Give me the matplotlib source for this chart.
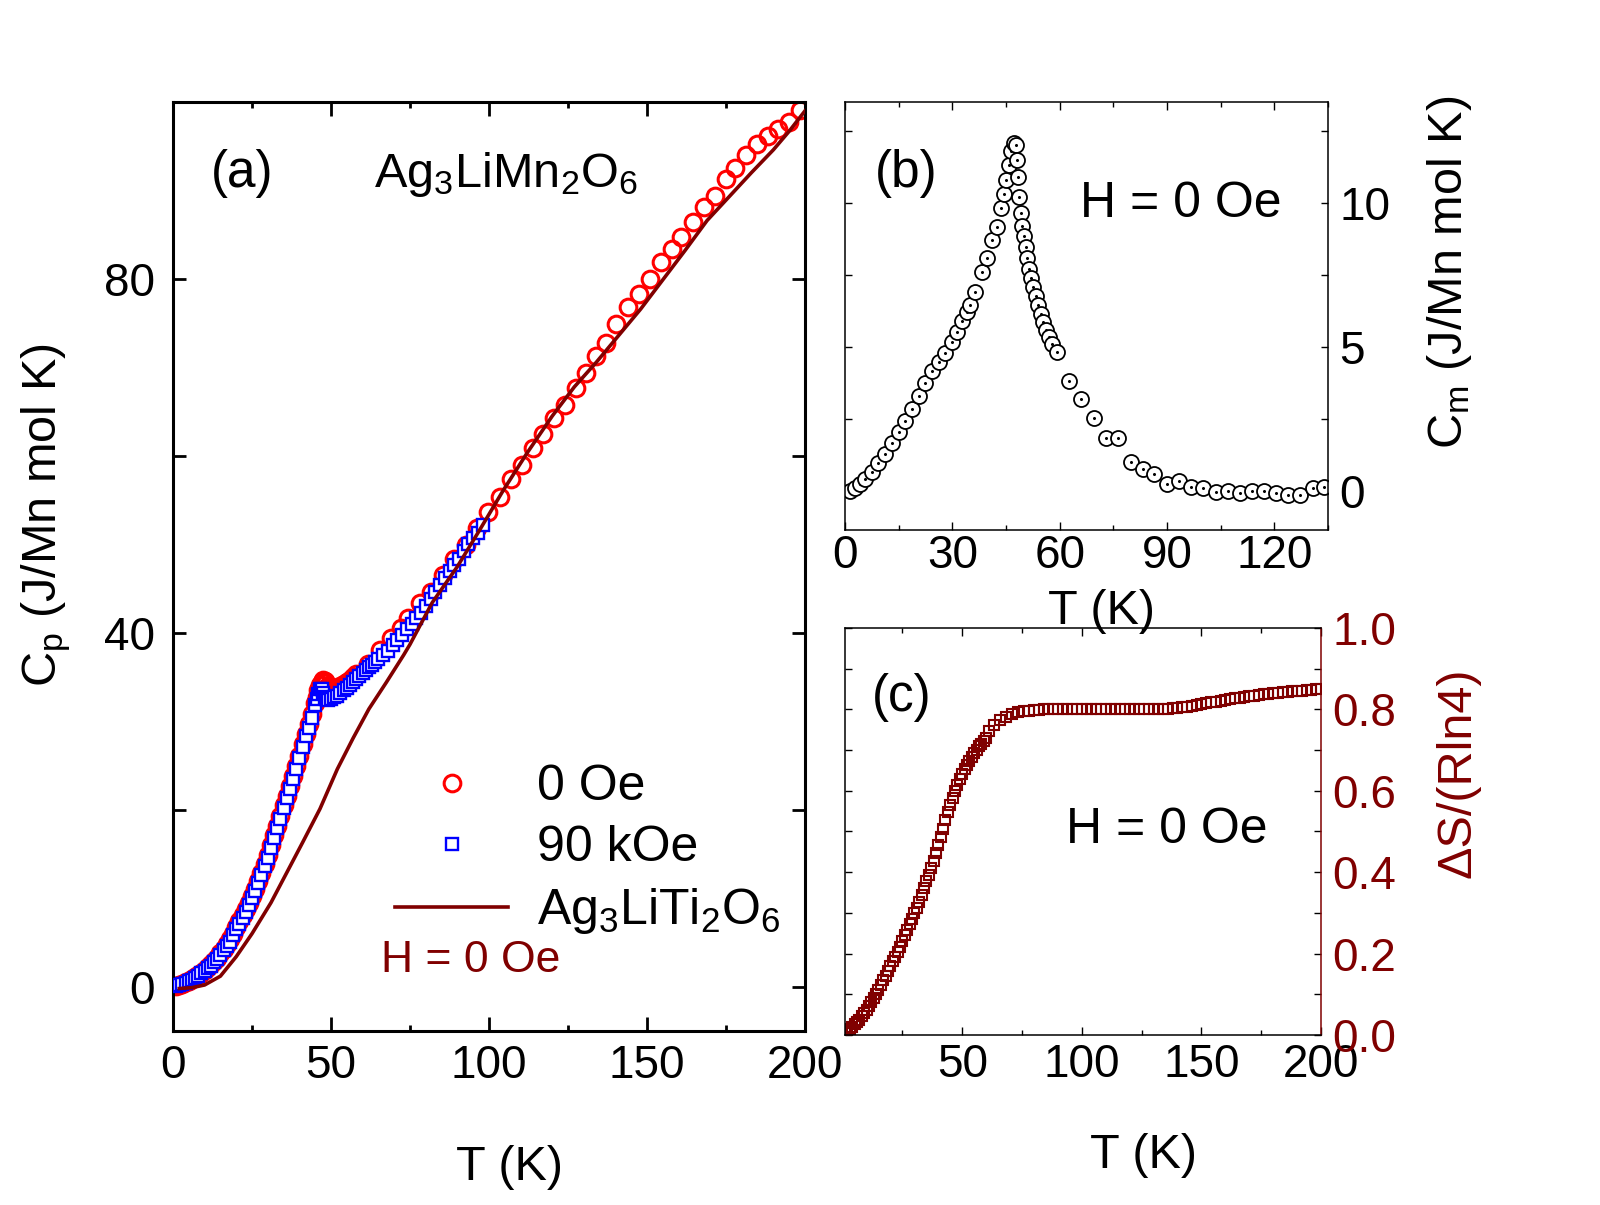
"""
Specific heat of Ag3LiMn2O6: (a) total Cp at 0 Oe / 90 kOe with the
nonmagnetic Ag3LiTi2O6 lattice reference, (b) magnetic part Cm,
(c) magnetic entropy normalised to R ln4.
"""

import matplotlib
matplotlib.use("Agg")
import matplotlib.pyplot as plt
from matplotlib.ticker import FixedLocator, MultipleLocator, FormatStrFormatter

W, H = 1600, 1205
DARK_RED = "#800000"
FS_TICK = 33
FS_LABEL = 35
FS_TEXT = 36

# ---------------------------------------------------------------------
# (a) Cp (J/Mn mol K) vs T (K)
# ---------------------------------------------------------------------
T_0oe = [1, 2, 3, 4, 5, 6, 7, 8, 9, 10,
         11, 12, 13, 14, 15, 16, 17, 18, 19, 20,
         21, 22, 23, 24, 25, 26, 27, 28, 29, 30,
         31, 32, 33, 34, 35, 36, 37, 38, 39, 40,
         41, 42, 43, 44, 45, 45.5, 46, 46.5, 47, 47.5,
         48, 48.5, 49, 49.5, 50, 51, 52, 53, 54, 55,
         56, 57, 58, 61.8, 65.5, 69, 72.2, 74.5, 78.2, 81.8,
         85.5, 88.9, 92.6, 96.1, 99.8, 103.5, 107.0, 110.5, 114.0, 117.2,
         120.7, 124.1, 127.6, 130.6, 134.0, 137.0, 140.3, 143.9, 147.4, 150.9,
         154.5, 158.0, 160.9, 164.4, 167.9, 171.4, 175.0, 177.8, 181.3, 184.9,
         188.4, 191.4, 194.8, 198.3]
Cp_0oe = [0.1, 0.2, 0.35, 0.5, 0.7, 0.9, 1.1, 1.35, 1.6, 1.9,
          2.2, 2.55, 2.9, 3.3, 3.8, 4.3, 4.8, 5.4, 6.0, 6.7,
          7.4, 8.1, 8.8, 9.5, 10.3, 11.1, 12.0, 12.9, 13.9, 14.9,
          16.0, 17.1, 18.2, 19.3, 20.5, 21.6, 22.7, 23.8, 24.9, 26.1,
          27.4, 28.6, 29.7, 30.8, 32.1, 32.8, 33.5, 34.1, 34.5, 34.7,
          34.6, 34.3, 34.0, 33.8, 33.7, 33.7, 33.8, 34.0, 34.2, 34.4,
          34.7, 35.0, 35.3, 36.5, 38.1, 39.4, 40.6, 41.7, 43.4, 44.6,
          46.5, 48.4, 49.9, 51.8, 53.7, 55.4, 57.4, 59.0, 60.9, 62.5,
          64.3, 65.8, 67.7, 69.4, 71.3, 72.8, 74.9, 76.8, 78.3, 80.0,
          81.9, 83.4, 84.7, 86.4, 88.1, 89.4, 91.3, 92.5, 94.0, 95.3,
          96.2, 97.0, 97.7, 99.1]

T_90koe = [1, 2, 3, 4, 5, 6, 7, 8, 9, 10,
           11, 12, 13, 14, 15, 16, 17, 18, 19, 20,
           21, 22, 23, 24, 25, 26, 27, 28, 29, 30,
           31, 32, 33, 34, 35, 36, 37, 38, 39, 40,
           41, 42, 43, 44, 45, 45.5, 46, 46.5, 47, 47.5,
           48, 48.5, 49, 50, 51, 52, 53, 54, 55, 56,
           57, 58, 59, 60, 61, 62, 63, 64, 65, 66.5,
           68, 69.5, 71, 72.5, 74, 75.5, 77, 78.5, 80, 81.5,
           83, 84.5, 86, 87.5, 89, 90.5, 92, 93.5, 95, 96.5,
           98]
Cp_90koe = [0.1, 0.2, 0.3, 0.45, 0.6, 0.8, 1.0, 1.25, 1.5, 1.8,
            2.1, 2.4, 2.75, 3.1, 3.6, 4.1, 4.6, 5.1, 5.8, 6.5,
            7.1, 7.8, 8.5, 9.2, 10.0, 10.8, 11.7, 12.6, 13.6, 14.6,
            15.7, 16.8, 17.9, 19.0, 20.2, 21.3, 22.4, 23.5, 24.6, 25.8,
            27.1, 28.3, 29.3, 30.4, 31.8, 32.5, 33.1, 33.6, 33.6, 33.2,
            32.8, 32.5, 32.4, 32.5, 32.7, 32.9, 33.2, 33.5, 33.8, 34.1,
            34.4, 34.8, 35.1, 35.5, 35.8, 36.1, 36.4, 36.7, 37.0, 37.5,
            38.0, 38.6, 39.2, 39.8, 40.4, 41.0, 41.7, 42.3, 43.0, 43.8,
            44.6, 45.4, 46.2, 47.0, 47.7, 48.4, 49.3, 50.0, 50.7, 51.3,
            52.2]

T_ref = [2, 6, 10, 15, 20, 25, 31, 36, 41, 46.5,
         52, 57, 62, 67.5, 73, 75, 82, 90, 97, 104.5,
         112, 120, 127, 134, 141, 148, 155, 162, 169, 176,
         183, 190, 195, 200]
Cp_ref = [-0.2, -0.1, 0.2, 1.2, 3.4, 6.0, 9.5, 12.9, 16.3, 20.1,
          24.6, 28.1, 31.4, 34.4, 37.5, 38.7, 43.4, 47.5, 51.6, 56.1,
          60.3, 64.5, 67.8, 70.6, 73.6, 76.6, 79.9, 83.2, 86.6, 89.3,
          92.0, 94.6, 96.7, 99.0]

# ---------------------------------------------------------------------
# (b) Cm (J/Mn mol K) vs T (K), H = 0
# ---------------------------------------------------------------------
T_cm = [1.4, 2.8, 4.2, 5.6, 7.5, 9.3, 11.2, 13.1, 15.0, 16.8,
        18.7, 20.6, 22.4, 24.3, 26.2, 28.0, 29.9, 31.3, 32.7, 34.1,
        35.0, 36.4, 38.3, 39.7, 41.1, 42.5, 43.5, 44.4, 44.9, 45.8,
        46.5, 47.2, 47.7, 48.1, 48.4, 48.6, 49.1, 49.5, 50.0, 50.5,
        50.9, 51.4, 51.9, 52.5, 53.3, 54.0, 54.7, 55.4, 56.1, 57.0,
        57.9, 59.3, 62.6, 66.1, 69.6, 72.9, 76.4, 79.9, 83.2, 86.4,
        90.0, 93.3, 96.7, 100.2, 103.6, 107.0, 110.3, 113.7, 117.0, 120.6,
        123.8, 127.3, 130.7, 134.0]
Cm = [0.0, 0.1, 0.22, 0.41, 0.66, 0.97, 1.28, 1.66, 2.03, 2.4,
      2.84, 3.28, 3.72, 4.15, 4.46, 4.78, 5.15, 5.52, 5.9, 6.2,
      6.46, 6.9, 7.58, 8.08, 8.7, 9.14, 9.83, 10.3, 10.8, 11.3,
      11.8, 12.07, 12.0, 11.5, 10.9, 10.2, 9.64, 9.2, 8.83, 8.45,
      8.08, 7.7, 7.39, 7.08, 6.77, 6.46, 6.15, 5.84, 5.59, 5.34,
      5.09, 4.81, 3.82, 3.18, 2.53, 1.82, 1.81, 1.0, 0.75, 0.56,
      0.22, 0.32, 0.14, 0.1, -0.06, -0.02, -0.1, -0.02, 0.0, -0.09,
      -0.17, -0.15, 0.1, 0.14]

# ---------------------------------------------------------------------
# (c) dS / (R ln4) vs T (K), H = 0
# ---------------------------------------------------------------------
T_ent = [1, 2, 3, 4, 5, 6, 7, 8, 9, 10,
         11, 12, 13, 14, 15, 16, 17, 18, 19, 20,
         21, 22, 23, 24, 25, 26, 27, 28, 29, 30,
         31, 32, 33, 34, 35, 36, 37, 38, 39, 40,
         41, 42, 43, 44, 45, 46, 47, 48, 49, 50,
         51, 52, 53, 54, 55, 56, 57, 58, 59, 60,
         61, 63.5, 66, 68.5, 71, 73.5, 76, 78, 80,
         82, 84, 86, 88, 90, 92, 94, 96, 98, 100,
         102, 104, 106, 108, 110, 112, 114, 116, 118, 120,
         122, 124, 126, 128, 130, 132, 134, 136, 138, 140,
         142, 144, 146, 148, 150, 152, 154, 156, 158, 160,
         162, 164, 166, 168, 170, 172, 174, 176, 178, 180,
         182, 184, 186, 188, 190, 192, 194, 196, 198, 200]
S_ent = [0.005, 0.010, 0.015, 0.020, 0.026, 0.031, 0.038, 0.046, 0.054, 0.062,
         0.071, 0.080, 0.090, 0.100, 0.111, 0.122, 0.134, 0.146, 0.158, 0.170,
         0.181, 0.192, 0.203, 0.217, 0.231, 0.245, 0.259, 0.272, 0.286, 0.300,
         0.313, 0.327, 0.344, 0.362, 0.378, 0.394, 0.411, 0.428, 0.447, 0.467,
         0.487, 0.507, 0.528, 0.548, 0.565, 0.583, 0.600, 0.615, 0.630, 0.642,
         0.653, 0.663, 0.673, 0.683, 0.692, 0.701, 0.709, 0.716, 0.723, 0.729,
         0.748, 0.762, 0.773, 0.782, 0.788, 0.793, 0.796, 0.797, 0.799,
         0.799, 0.800, 0.800, 0.800, 0.801, 0.801, 0.801, 0.801, 0.801, 0.801,
         0.801, 0.800, 0.800, 0.800, 0.800, 0.800, 0.800, 0.800, 0.800, 0.801,
         0.801, 0.801, 0.801, 0.801, 0.801, 0.802, 0.802, 0.802, 0.803, 0.804,
         0.806, 0.807, 0.809, 0.811, 0.813, 0.815, 0.817, 0.819, 0.821, 0.823,
         0.825, 0.827, 0.829, 0.831, 0.832, 0.834, 0.835, 0.837, 0.838, 0.840,
         0.841, 0.842, 0.843, 0.844, 0.845, 0.846, 0.847, 0.848, 0.849, 0.850]


def px_rect(left, top, right, bottom):
    """Axes rect (figure fraction) from pixel box measured on the reference."""
    return [left / W, 1 - bottom / H, (right - left) / W, (bottom - top) / H]


def fig_xy(x, y):
    return x / W, 1 - y / H


def style_spines(ax, lw):
    for s in ax.spines.values():
        s.set_linewidth(lw)


def panel_a(fig):
    ax = fig.add_axes(px_rect(173, 102, 805, 1031))
    ax.plot(T_0oe, Cp_0oe, "o", ms=12, mfc="none", mec="red", mew=2.2,
            label="0 Oe", zorder=2)
    ax.plot(T_90koe, Cp_90koe, "s", ms=8.3, mfc="white", mec="blue", mew=1.7,
            label="90 kOe", zorder=3)
    ax.plot(T_ref, Cp_ref, "-", color=DARK_RED, lw=2.6,
            label="Ag$_3$LiTi$_2$O$_6$", zorder=4)
    ax.set_xlim(0, 200)
    ax.set_ylim(-5, 100)
    ax.xaxis.set_major_locator(MultipleLocator(50))
    ax.xaxis.set_minor_locator(MultipleLocator(25))
    ax.yaxis.set_major_locator(FixedLocator([0, 40, 80]))
    ax.yaxis.set_minor_locator(FixedLocator([20, 60]))
    style_spines(ax, 2.2)
    ax.tick_params(which="both", direction="in", top=True, right=True,
                   width=2.0, labelsize=FS_TICK)
    ax.tick_params(axis="x", which="major", length=10, pad=9)
    ax.tick_params(axis="x", which="minor", length=4.5)
    ax.tick_params(axis="y", which="both", length=9.5, pad=13)

    ax.legend(loc="upper left", bbox_to_anchor=fig_xy(395, 764),
              bbox_transform=fig.transFigure, frameon=False, fontsize=FS_TEXT,
              handlelength=2.26, handletextpad=0.58, labelspacing=0.3,
              borderpad=0, borderaxespad=0, numpoints=1)
    fig.text(*fig_xy(381, 961), "H = 0 Oe", color=DARK_RED, fontsize=32,
             ha="left", va="center")
    fig.text(*fig_xy(211, 187), "(a)", fontsize=FS_TEXT + 1, ha="left",
             va="baseline")
    fig.text(*fig_xy(374, 187), "Ag$_3$LiMn$_2$O$_6$", fontsize=35,
             ha="left", va="baseline")
    fig.text(*fig_xy(510, 1168), "T (K)", fontsize=FS_LABEL, ha="center",
             va="center")
    fig.text(*fig_xy(46, 515), "C$_p$ (J/Mn mol K)", fontsize=FS_LABEL,
             rotation=90, ha="center", va="center")


def panel_b(fig):
    ax = fig.add_axes(px_rect(845, 102, 1328, 530))
    # stacked open circles with a centre dot, drawn point by point so the
    # later symbols sit on top of the earlier ones
    for t, c in zip(T_cm, Cm):
        ax.plot([t], [c], "o", ms=10.8, mfc="white", mec="black", mew=1.3,
                zorder=2)
        ax.plot([t], [c], ".", ms=2.4, color="black", zorder=2)
    ax.set_xlim(0, 135)
    ax.set_ylim(-1.37, 13.5)
    ax.xaxis.set_major_locator(MultipleLocator(30))
    ax.xaxis.set_minor_locator(MultipleLocator(15))
    ax.yaxis.set_major_locator(MultipleLocator(5))
    ax.yaxis.set_minor_locator(MultipleLocator(2.5))
    style_spines(ax, 1.1)
    ax.tick_params(which="both", direction="in", top=True, left=True,
                   right=True, labelleft=False, labelright=True,
                   width=1.0, labelsize=FS_TICK)
    ax.tick_params(axis="x", which="major", length=6, pad=3)
    ax.tick_params(axis="x", which="minor", length=3.5)
    ax.tick_params(axis="y", which="both", length=5, pad=8)
    fig.text(*fig_xy(875, 187), "(b)", fontsize=FS_TEXT + 1, ha="left",
             va="baseline")
    fig.text(*fig_xy(1080, 217), "H = 0 Oe", fontsize=FS_TEXT, ha="left",
             va="baseline")
    fig.text(*fig_xy(1449, 272), "C$_m$ (J/Mn mol K)", fontsize=FS_LABEL,
             rotation=90, ha="center", va="center")


def panel_c(fig):
    ax = fig.add_axes(px_rect(845, 628, 1321, 1035))
    ax.plot(T_ent, S_ent, "s", ms=7.4, mfc="none", mec=DARK_RED, mew=1.5)
    ax.set_xlim(1, 200)
    ax.set_ylim(0, 1.0)
    ax.xaxis.set_major_locator(MultipleLocator(50))
    ax.xaxis.set_minor_locator(MultipleLocator(25))
    ax.yaxis.set_major_locator(MultipleLocator(0.2))
    ax.yaxis.set_minor_locator(MultipleLocator(0.1))
    ax.yaxis.set_major_formatter(FormatStrFormatter("%.1f"))
    style_spines(ax, 1.1)
    ax.spines["right"].set_color(DARK_RED)
    ax.tick_params(which="both", direction="in", top=True, left=True,
                   right=True, labelleft=False, labelright=True,
                   width=1.0, labelsize=FS_TICK)
    ax.tick_params(axis="x", which="major", length=6, pad=6)
    ax.tick_params(axis="x", which="minor", length=3.5)
    ax.tick_params(axis="y", which="both", length=5, pad=8)
    # only the right-hand y ticks and labels are dark red
    for tick in ax.yaxis.get_major_ticks() + ax.yaxis.get_minor_ticks():
        tick.tick2line.set_color(DARK_RED)
        tick.label2.set_color(DARK_RED)
    fig.text(*fig_xy(872, 711), "(c)", fontsize=FS_TEXT + 1, ha="left",
             va="baseline")
    fig.text(*fig_xy(1066, 843), "H = 0 Oe", fontsize=FS_TEXT, ha="left",
             va="baseline")
    fig.text(*fig_xy(1143, 1156), "T (K)", fontsize=FS_LABEL, ha="center",
             va="center")
    fig.text(*fig_xy(1458, 773), "\u0394S/(Rln4)", fontsize=FS_LABEL,
             color=DARK_RED, rotation=90, ha="center", va="center")


def main() -> None:
    plt.rcParams["font.family"] = "Liberation Sans"
    plt.rcParams["mathtext.fontset"] = "custom"
    plt.rcParams["mathtext.rm"] = "Liberation Sans"
    plt.rcParams["mathtext.default"] = "regular"

    fig = plt.figure(figsize=(W / 100, H / 100), dpi=100)
    panel_a(fig)
    panel_c(fig)
    panel_b(fig)
    # x label of (b) sits over the top edge of (c), as in the original
    fig.text(*fig_xy(1102, 612), "T (K)", fontsize=FS_LABEL, ha="center",
             va="center", zorder=10)
    fig.savefig("out.png", dpi=100)
    plt.close(fig)


if __name__ == "__main__":
    main()
